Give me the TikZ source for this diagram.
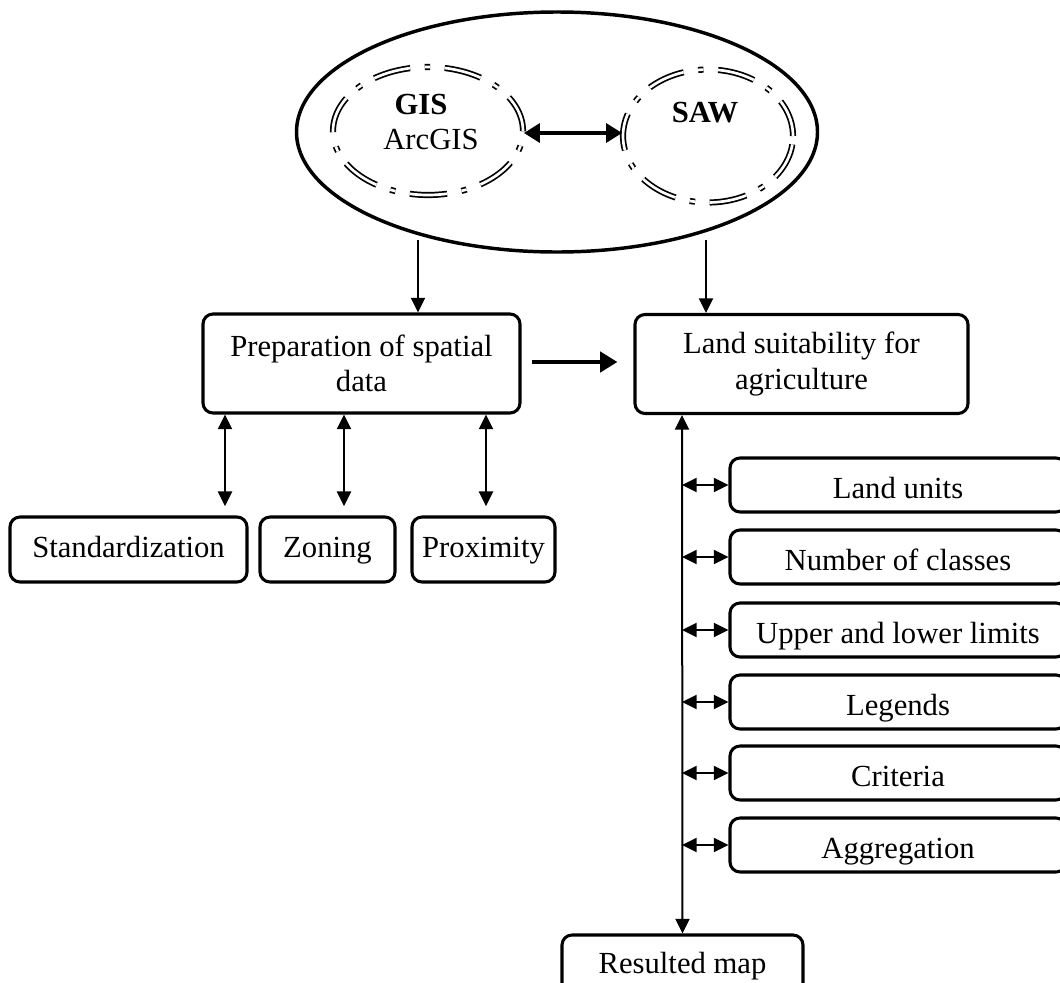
\documentclass[tikz,border=0pt]{standalone}
\usepackage{fontspec}
\setmainfont{Liberation Serif}
\usetikzlibrary{shapes.geometric,arrows.meta}
\tikzset{
  box/.style={draw, line width=2.3pt, rounded corners=7.5pt, inner sep=0pt, align=center,
    font=\fontsize{23}{26.5}\selectfont},
  lowbox/.style={box, text height=18pt, text depth=5.8pt},
  sidebox/.style={box, minimum width=252pt, minimum height=40.5pt, text height=24pt, text depth=3.6pt},
  inner ell/.style={ellipse, draw, double, line width=1.3pt, double distance=2pt,
    dash pattern=on 28pt off 11pt on 4pt off 11pt, inner sep=0pt},
  lbl/.style={inner sep=0pt, font=\fontsize{23}{26.5}\selectfont},
  arr/.style={line width=1.5pt, -{Triangle[length=11pt,width=10.5pt]}},
  arrr/.style={line width=1.5pt, {Triangle[length=11pt,width=10.5pt]}-{Triangle[length=11pt,width=10.5pt]}},
  thickarr/.style={line width=3.6pt, -{Triangle[length=13pt,width=15pt]}},
  thickarrr/.style={line width=3.3pt, {Triangle[length=12pt,width=14pt]}-{Triangle[length=12pt,width=14pt]}},
}
\begin{document}
\begin{tikzpicture}[x=0.75pt,y=-0.75pt]
\useasboundingbox (0,0) rectangle (1060,982);
% ellipses
\node[ellipse, draw, line width=2.6pt, minimum width=390.75pt, minimum height=180pt, inner sep=0pt] (outer) at (557,132) {};
\node[inner ell, minimum width=142.5pt, minimum height=96pt] (gis) at (428,131) {};
\node[inner ell, minimum width=127.5pt, minimum height=99.75pt] (saw) at (708,136) {};
\node[lbl] (gist) at (421,104) {\textbf{GIS}};
\node[lbl] (arcgis) at (431,139) {ArcGIS};
\node[lbl] (sawt) at (705,113) {\textbf{SAW}};
\coordinate (hm) at (0,133);
\draw[thickarrr] (hm -| gis.east) -- (hm -| saw.west);
% main boxes
\node[box, minimum width=237.75pt, minimum height=74.25pt] (prep) at (361.5,363.5) {Preparation of spatial\\data};
\node[box, minimum width=249.75pt, minimum height=74.25pt] (land) at (801.5,364) {Land suitability for\\agriculture};
\coordinate (o1) at (418,240);
\coordinate (o2) at (706,240);
\draw[arr] (o1) -- (o1 |- prep.north);
\draw[arr] (o2) -- (o2 |- land.north);
\coordinate (h) at (0,362);
\draw[thickarr] ([xshift=7.5pt]h -| prep.east) -- ([xshift=-12pt]h -| land.west);
% bottom-left boxes
\node[lowbox, minimum width=177.75pt, minimum height=48.75pt] (std) at (128.5,549.5) {Standardization};
\node[lowbox, minimum width=101.25pt, minimum height=48.75pt] (zon) at (327.5,549.5) {Zoning};
\node[lowbox, minimum width=107.25pt, minimum height=48.75pt] (prox) at (483.5,549.5) {Proximity};
\coordinate (a1) at (225,0);
\coordinate (a2) at (344,0);
\coordinate (a3) at (486,0);
\draw[arrr] (a1 |- prep.south) -- ([yshift=7pt]a1 |- std.north);
\draw[arrr] (a2 |- prep.south) -- ([yshift=7pt]a2 |- zon.north);
\draw[arrr] (a3 |- prep.south) -- ([yshift=7pt]a3 |- prox.north);
% right boxes
\node[sidebox] (b1) at (898,485) {Land units};
\node[sidebox] (b2) at (898,557) {Number of classes};
\node[sidebox] (b3) at (898,630) {Upper and lower limits};
\node[sidebox] (b4) at (898,702) {Legends};
\node[sidebox] (b5) at (898,773) {Criteria};
\node[sidebox] (b6) at (898,845) {Aggregation};
\node[lowbox, minimum width=180.75pt, minimum height=45pt] (res) at (682.5,965) {Resulted map};
\coordinate (vx) at (682,0);
\draw[arrr] (vx |- land.south) -- (res.north);
\foreach \b in {b1,b2,b3,b4,b5,b6}{
  \draw[arrr] (vx |- \b.west) -- (\b.west);
}
\end{tikzpicture}
\end{document}
